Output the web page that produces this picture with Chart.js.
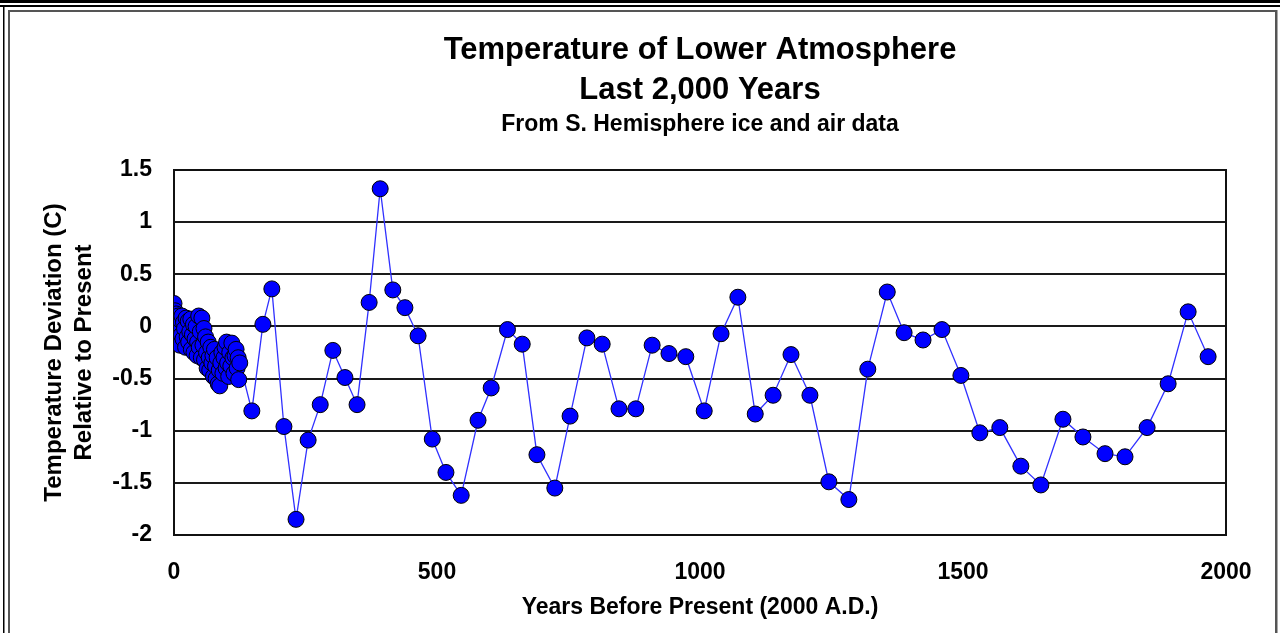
<!DOCTYPE html>
<html>
<head>
<meta charset="utf-8">
<title>Temperature of Lower Atmosphere</title>
<script src="https://cdn.jsdelivr.net/npm/chart.js@4/dist/chart.umd.min.js"></script>
<style>
    html, body { margin: 0; padding: 0; background: #fff; }
    #wrap { width: 1280px; height: 633px; }
</style>
</head>
<body>
<div id="wrap"><canvas id="tempChart" width="1280" height="633"></canvas></div>
<script>
// Years before present and temperature deviation (C)
const years = [
    0, 1, 2, 3, 4, 5, 6, 7, 8, 10, 11, 12, 14, 15, 17, 18, 20, 22, 23, 25,
    27, 28, 30, 32, 33, 35, 37, 38, 40, 42, 44, 45, 47, 48, 50, 52, 53, 55, 57, 58,
    60, 62, 63, 65, 67, 68, 70, 72, 74, 75, 77, 79, 80, 82, 84, 86, 87, 89, 91, 93,
    95, 97, 99, 100, 102, 104, 106, 108, 110, 112, 114, 116, 118, 120, 122, 123, 125,
    148, 169, 186, 209, 232, 255, 278, 302, 325, 348, 371, 392, 416, 439, 464, 491,
    517, 546, 578, 603, 634, 662, 690, 724, 753, 785, 814, 846, 878, 909, 941, 973,
    1008, 1040, 1072, 1105, 1139, 1173, 1209, 1245, 1283, 1319, 1356, 1388, 1424,
    1460, 1496, 1532, 1570, 1610, 1648, 1690, 1728, 1770, 1808, 1850, 1890, 1928, 1966
];
const temps = [
    0.22, 0.05, 0.15, -0.10, 0.12, -0.05, 0.08, -0.15, 0.10, 0.02, -0.18, 0.06, -0.08, 0.10, -0.12, 0.04, -0.02, -0.20, 0.08, -0.10,
    0.05, -0.15, -0.05, 0.07, -0.22, -0.08, 0.02, -0.25, -0.12, 0.00, -0.28, -0.15, 0.10, -0.20, -0.05, -0.30, 0.08, -0.18, -0.02, -0.32,
    -0.10, -0.25, -0.40, -0.15, -0.30, -0.42, -0.20, -0.35, -0.28, -0.48, -0.22, -0.38, -0.50, -0.30, -0.55, -0.42, -0.57, -0.35, -0.25, -0.45,
    -0.30, -0.20, -0.40, -0.15, -0.35, -0.48, -0.25, -0.38, -0.16, -0.30, -0.45, -0.28, -0.22, -0.40, -0.30, -0.51, -0.35,
    -0.81, 0.02, 0.36, -0.96, -1.85, -1.09, -0.75, -0.23, -0.49, -0.75, 0.23, 1.32, 0.35, 0.18, -0.09, -1.08,
    -1.40, -1.62, -0.90, -0.59, -0.03, -0.17, -1.23, -1.55, -0.86, -0.11, -0.17, -0.79, -0.79, -0.18, -0.26, -0.29,
    -0.81, -0.07, 0.28, -0.84, -0.66, -0.27, -0.66, -1.49, -1.66, -0.41, 0.33, -0.06, -0.13,
    -0.03, -0.47, -1.02, -0.97, -1.34, -1.52, -0.89, -1.06, -1.22, -1.25, -0.97, -0.55, 0.14, -0.29
];

// Axis ticks
const xTicks = [0, 500, 1000, 1500, 2000];
const yTicks = [1.5, 1, 0.5, 0, -0.5, -1, -1.5, -2];

const titleLines = ['Temperature of Lower Atmosphere', 'Last 2,000 Years'];
const subtitleText = 'From S. Hemisphere ice and air data';
const xTitle = 'Years Before Present (2000 A.D.)';
const yTitle = ['Temperature Deviation (C)', 'Relative to Present'];

const FONT = "'Liberation Sans', Arial, sans-serif";

// Page frame and plot border
const framePlugin = {
    id: 'frame',
    beforeDraw(chart) {
        const ctx = chart.ctx;
        ctx.save();
        ctx.fillStyle = '#fff';
        ctx.fillRect(0, 0, chart.width, chart.height);
        ctx.fillStyle = '#000';
        ctx.fillRect(0, 0, chart.width, 3);
        ctx.fillRect(0, 5, chart.width, 2);
        ctx.fillRect(3, 5, 1.5, chart.height);
        ctx.fillStyle = '#555';
        ctx.fillRect(8, 10, 1268, 2);
        ctx.fillRect(8, 10, 2, chart.height);
        ctx.fillRect(1275, 10, 2.5, chart.height);
        ctx.restore();
    },
    beforeDatasetsDraw(chart) {
        const { ctx, chartArea } = chart;
        ctx.save();
        ctx.strokeStyle = '#111';
        ctx.lineWidth = 2;
        ctx.strokeRect(chartArea.left, chartArea.top, chartArea.right - chartArea.left, chartArea.bottom - chartArea.top);
        ctx.restore();
    }
};

const ctx = document.getElementById('tempChart').getContext('2d');
new Chart(ctx, {
    type: 'line',
    data: {
        datasets: [{
            data: years.map((yr, i) => ({ x: yr, y: temps[i] })),
            borderColor: '#3030ff',
            borderWidth: 1.3,
            pointRadius: 8,
            pointBackgroundColor: '#0000ff',
            pointBorderColor: '#000',
            pointBorderWidth: 1,
            tension: 0
        }]
    },
    options: {
        responsive: false,
        animation: false,
        events: [],
        layout: { padding: { left: 0, right: 54, top: 30, bottom: 0 } },
        plugins: {
            legend: { display: false },
            tooltip: { enabled: false },
            title: {
                display: true,
                fullSize: false,
                text: titleLines,
                color: '#000',
                font: { family: FONT, size: 31, weight: 'bold', lineHeight: '40px' },
                padding: { top: 0, bottom: 0 }
            },
            subtitle: {
                display: true,
                fullSize: false,
                text: subtitleText,
                color: '#000',
                font: { family: FONT, size: 23, weight: 'bold', lineHeight: '30px' },
                padding: { top: 0, bottom: 30 }
            }
        },
        scales: {
            x: {
                type: 'linear',
                min: 0,
                max: 2000,
                afterBuildTicks: scale => { scale.ticks = xTicks.map(v => ({ value: v })); },
                afterFit: scale => { scale.height = 98; },
                grid: { display: false, drawTicks: false },
                border: { display: false },
                ticks: {
                    color: '#000',
                    padding: 24,
                    maxRotation: 0,
                    font: { family: FONT, size: 23, weight: 'bold' },
                    callback: value => String(value)
                },
                title: {
                    display: true,
                    text: xTitle,
                    color: '#000',
                    font: { family: FONT, size: 23, weight: 'bold', lineHeight: '24px' },
                    padding: { top: 0, bottom: 13 }
                }
            },
            y: {
                min: -2,
                max: 1.5,
                afterBuildTicks: scale => { scale.ticks = yTicks.map(v => ({ value: v })); },
                afterFit: scale => { scale.width = 174; },
                grid: { color: '#1a1a1a', lineWidth: 2, drawTicks: false },
                border: { display: false },
                ticks: {
                    color: '#000',
                    padding: 22,
                    font: { family: FONT, size: 23, weight: 'bold' },
                    callback: value => String(value)
                },
                title: {
                    display: true,
                    text: yTitle,
                    color: '#000',
                    font: { family: FONT, size: 24, weight: 'bold', lineHeight: '30px' },
                    padding: { top: 39, bottom: 0 }
                }
            }
        }
    },
    plugins: [framePlugin]
});
</script>
</body>
</html>
